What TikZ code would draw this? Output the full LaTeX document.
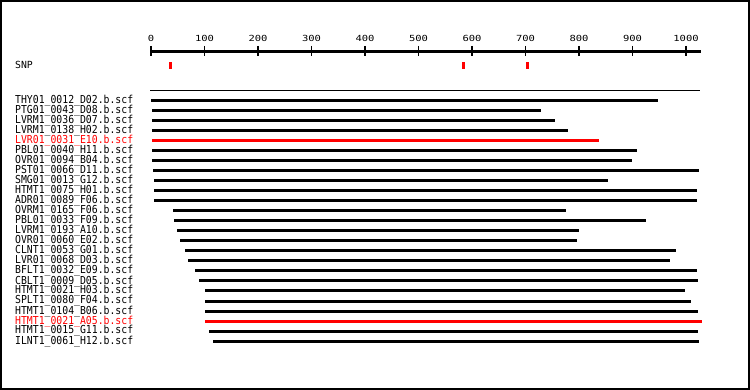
\documentclass[tikz,border=0pt]{standalone}
\usepackage{fontspec}
\newfontfamily\pix{DejaVu Sans Mono}
\definecolor{snpred}{RGB}{255,0,0}
\begin{document}
\begin{tikzpicture}[x=1pt,y=-1pt,
  bar/.style={line width=3pt},
  lab/.style={anchor=base west, inner sep=0pt, font=\pix\fontsize{9.8}{10}\selectfont},
  ticklab/.style={anchor=base, inner sep=0pt, font=\pix\fontsize{10.5}{10}\selectfont},
  snpmark/.style={fill=snpred, draw=none}]
\useasboundingbox (0,0) rectangle (750,390);
\draw[line width=2pt] (1,1) rectangle (749,389);
% axis
\coordinate (ax0) at (151,51.5);
\coordinate (ax1) at (701,51.5);
\draw[line width=3pt] (ax0) -- (ax1);
\foreach \v [count=\k from 0, evaluate=\k as \x using 151+53.5*\k] in {0,100,200,300,400,500,600,700,800,900,1000} {
  \coordinate (ta\k) at (\x,46);
  \coordinate (tb\k) at (\x,56);
  \draw[line width=1.3pt] (ta\k) -- (tb\k);
  \node[ticklab] (tl\k) at (\x,42) {\scalebox{1}[0.8]{\v}};
}
% SNP
\node[lab] (snp) at (15,69) {SNP};
\fill[snpmark] (169,62) rectangle (172,69);
\fill[snpmark] (462,62) rectangle (465,69);
\fill[snpmark] (526,62) rectangle (529,69);
% separator
\coordinate (sepa) at (150,90.5);
\coordinate (sepb) at (700,90.5);
\draw[line width=1pt] (sepa) -- (sepb);
% reads
\foreach \t/\s/\e/\c [count=\i, evaluate=\i as \y using 91+10*\i, evaluate=\i as \yb using 94+10*\i] in {
  THY01\_0012\_D02.b.scf/151/658/black,
  PTG01\_0043\_D08.b.scf/152/541/black,
  LVRM1\_0036\_D07.b.scf/152/555/black,
  LVRM1\_0138\_H02.b.scf/152/568/black,
  LVR01\_0031\_E10.b.scf/152/599/snpred,
  PBL01\_0040\_H11.b.scf/152/637/black,
  OVR01\_0094\_B04.b.scf/152/632/black,
  PST01\_0066\_D11.b.scf/153/699/black,
  SMG01\_0013\_G12.b.scf/154/608/black,
  HTMT1\_0075\_H01.b.scf/154/697/black,
  ADR01\_0089\_F06.b.scf/154/697/black,
  OVRM1\_0165\_F06.b.scf/173/566/black,
  PBL01\_0033\_F09.b.scf/174/646/black,
  LVRM1\_0193\_A10.b.scf/177/579/black,
  OVR01\_0060\_E02.b.scf/180/577/black,
  CLNT1\_0053\_G01.b.scf/185/676/black,
  LVR01\_0068\_D03.b.scf/188/670/black,
  BFLT1\_0032\_E09.b.scf/195/697/black,
  CBLT1\_0009\_D05.b.scf/199/698/black,
  HTMT1\_0021\_H03.b.scf/205/685/black,
  SPLT1\_0080\_F04.b.scf/205/691/black,
  HTMT1\_0104\_B06.b.scf/205/698/black,
  HTMT1\_0021\_A05.b.scf/205/702/snpred,
  HTMT1\_0015\_G11.b.scf/209/698/black,
  ILNT1\_0061\_H12.b.scf/213/699/black} {
  \node[lab, text=\c] (l\i) at (15,\yb) {\scalebox{1}[1.12]{\t}};
  \coordinate (s\i) at (\s,\y);
  \coordinate (e\i) at (\e,\y);
  \draw[bar, \c] (s\i) -- (e\i);
}
\end{tikzpicture}
\end{document}
